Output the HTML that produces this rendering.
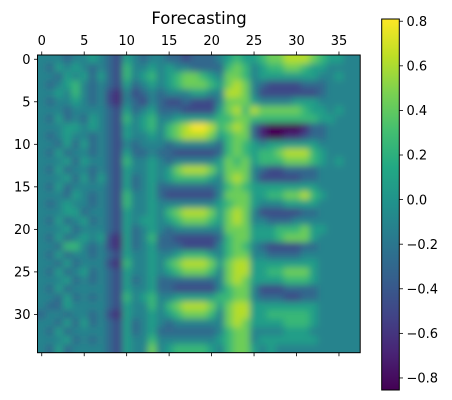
<!DOCTYPE html>
<html><head><meta charset="utf-8"><style>
html,body{margin:0;padding:0;background:#fff;}
svg{display:block;font-family:"DejaVu Sans","Liberation Sans",sans-serif;}
</style></head><body>
<svg id="chart" width="452" height="400" viewBox="0 0 452 400" xmlns="http://www.w3.org/2000/svg">
<defs>
<filter id="blur" x="-5%" y="-5%" width="110%" height="110%"><feGaussianBlur stdDeviation="3.4"/></filter>
<clipPath id="axclip"><rect x="37.5" y="55" width="322.7" height="297.7"/></clipPath>
<linearGradient id="cbgrad" x1="0" y1="1" x2="0" y2="0">
<stop offset="0" stop-color="#440154"/><stop offset="0.1" stop-color="#482475"/><stop offset="0.2" stop-color="#414487"/><stop offset="0.3" stop-color="#355f8d"/><stop offset="0.4" stop-color="#2a788e"/><stop offset="0.5" stop-color="#21918c"/><stop offset="0.6" stop-color="#22a884"/><stop offset="0.7" stop-color="#44bf70"/><stop offset="0.8" stop-color="#7ad151"/><stop offset="0.9" stop-color="#bddf26"/><stop offset="1" stop-color="#fde725"/>
</linearGradient>
</defs>
<text x="199" y="24" font-size="16.5" text-anchor="middle" fill="#000">Forecasting</text>
<g clip-path="url(#axclip)"><g id="cells" filter="url(#blur)"></g></g>
<rect x="37.5" y="55" width="322.7" height="297.7" fill="none" stroke="#000" stroke-width="1"/>
<g id="xaxis"></g>
<g id="yaxis"></g>
<rect x="381.7" y="19" width="17.6" height="371" fill="url(#cbgrad)" stroke="#000" stroke-width="1"/>
<g id="cbaxis"></g>
</svg>
<script>
const rows = [
"44434454 32 5 43 4 43323334 565 5677888765 544",
"43545434 32 6 44 5 45443333 676 4566776554 444",
"44354535 32 6 45 6 45677654 776 4555555544 544",
"43456434 32 5 34 5 45677765 787 4322223334 444",
"44546434 21 4 23 4 34445544 887 4222222234 444",
"43445434 21 4 32 4 32232224 777 5444455544 444",
"44434444 32 5 34 5 33322225 786 8777776554 544",
"43534354 32 6 45 6 44555556 677 6666666655 444",
"44455454 32 5 45 6 46789986 787 3100001334 444",
"43454434 32 5 44 5 46788875 677 3100112334 444",
"44353534 32 4 34 4 43444443 676 5455555544 444",
"43534434 32 5 33 4 33222223 676 5667888654 444",
"44453544 32 6 44 5 43444445 767 5666777654 544",
"43534434 32 5 44 5 45788875 777 4322333344 444",
"44453535 32 5 34 5 45666654 787 4222223344 444",
"43534444 32 5 34 5 33333334 676 5555555544 444",
"44435434 32 6 44 5 32222224 777 5566778654 444",
"43454434 32 6 44 5 44444445 677 5444555544 444",
"44455344 32 5 44 5 46788875 787 4222223344 444",
"43534534 32 5 45 5 45677765 787 4433344444 444",
"44453444 32 5 34 5 43444444 777 5556667554 444",
"43534545 21 5 34 6 33222223 677 5556777544 444",
"44366434 21 5 34 5 33322224 676 4322223344 444",
"43534434 32 5 44 5 44566654 677 4433334444 444",
"44353444 21 6 44 5 46788875 788 5555555544 444",
"43534534 32 5 44 5 45677764 788 5566777544 444",
"44453434 32 5 34 5 33333334 787 5555666544 444",
"43534444 32 5 44 5 33222224 677 4222333344 444",
"44353434 32 6 45 6 44555556 677 4333223344 444",
"43354444 32 5 44 6 46788875 788 5555555544 444",
"34434434 21 5 44 5 45677764 788 5566666544 444",
"44353534 32 5 34 5 43444444 787 5555666544 444",
"43534444 32 5 34 5 33333334 677 4444555444 444",
"44453434 32 5 44 6 44444445 677 4555555544 444",
"43534444 32 5 44 7 45666654 677 5454444444 444"
];
const xTicks = [0,5,10,15,20,25,30,35];
const yTicks = [0,5,10,15,20,25,30];
const cbTicks = [-0.8,-0.6,-0.4,-0.2,0.0,0.2,0.4,0.6,0.8];
const vmin = -0.854, vmax = 0.81;

const NS = "http://www.w3.org/2000/svg";
const X0 = 37.5, Y0 = 55, W = 322.7, H = 297.7;
const grid = rows.map(r => r.replace(/ /g,"").split("").map(d => -0.85 + (+d) * 0.184));
const nR = grid.length, nC = grid[0].length;
const cw = W / nC, ch = H / nR;
const xs = c => X0 + c * cw;
const ys = r => Y0 + r * ch;
const xc = c => X0 + (c + 0.5) * cw;
const yc = r => Y0 + (r + 0.5) * ch;

const vir = ["#440154","#482475","#414487","#355f8d","#2a788e","#21918c","#22a884","#44bf70","#7ad151","#bddf26","#fde725"].map(h => [1,3,5].map(i => parseInt(h.substr(i,2),16)));
function color(v){
  let t = Math.max(0, Math.min(1, (v - vmin) / (vmax - vmin))) * 10;
  const i = Math.min(9, Math.floor(t)), f = t - i;
  const c = vir[i].map((a,k) => Math.round(a + (vir[i+1][k] - a) * f));
  return `rgb(${c[0]},${c[1]},${c[2]})`;
}
function mk(tag, attrs, parent){
  const e = document.createElementNS(NS, tag);
  for (const k in attrs) e.setAttribute(k, attrs[k]);
  parent.appendChild(e);
  return e;
}
const cells = document.getElementById("cells");
for (let r = 0; r < nR; r++) for (let c = 0; c < nC; c++){
  let x = xs(c), y = ys(r), w = cw + 0.6, h = ch + 0.6;
  if (c === 0){ x -= 15; w += 15; }
  if (c === nC-1){ w += 15; }
  if (r === 0){ y -= 15; h += 15; }
  if (r === nR-1){ h += 15; }
  const el = mk("rect", {x:x, y:y, width:w, height:h, fill:color(grid[r][c])}, cells);
  
  
}
const xa = document.getElementById("xaxis");
xTicks.forEach(t => {
  const x = xc(t);
  mk("line", {x1:x, x2:x, y1:Y0, y2:Y0-3.5, stroke:"#000", "stroke-width":0.8}, xa);
  mk("line", {x1:x, x2:x, y1:Y0+H, y2:Y0+H+3.5, stroke:"#000", "stroke-width":0.8}, xa);
  const tx = mk("text", {x:x, y:Y0-10, "font-size":13, "text-anchor":"middle", fill:"#000"}, xa);
  tx.textContent = t;
  
  
});
const ya = document.getElementById("yaxis");
yTicks.forEach(t => {
  const y = yc(t);
  mk("line", {x1:X0, x2:X0-3.5, y1:y, y2:y, stroke:"#000", "stroke-width":0.8}, ya);
  const tx = mk("text", {x:X0-7, y:y+4.7, "font-size":13, "text-anchor":"end", fill:"#000"}, ya);
  tx.textContent = t;
  
  
});
const cb = document.getElementById("cbaxis");
const CBT = 19, CBB = 390;
const cy = v => CBB - (v - vmin) / (vmax - vmin) * (CBB - CBT);
cbTicks.forEach(t => {
  const y = cy(t);
  mk("line", {x1:399.3, x2:403, y1:y, y2:y, stroke:"#000", "stroke-width":0.8}, cb);
  const tx = mk("text", {x:406.5, y:y+4.7, "font-size":13, fill:"#000"}, cb);
  tx.textContent = (t < 0 ? "\u2212" : "") + Math.abs(t).toFixed(1);
  
  
});
</script>
</body></html>
